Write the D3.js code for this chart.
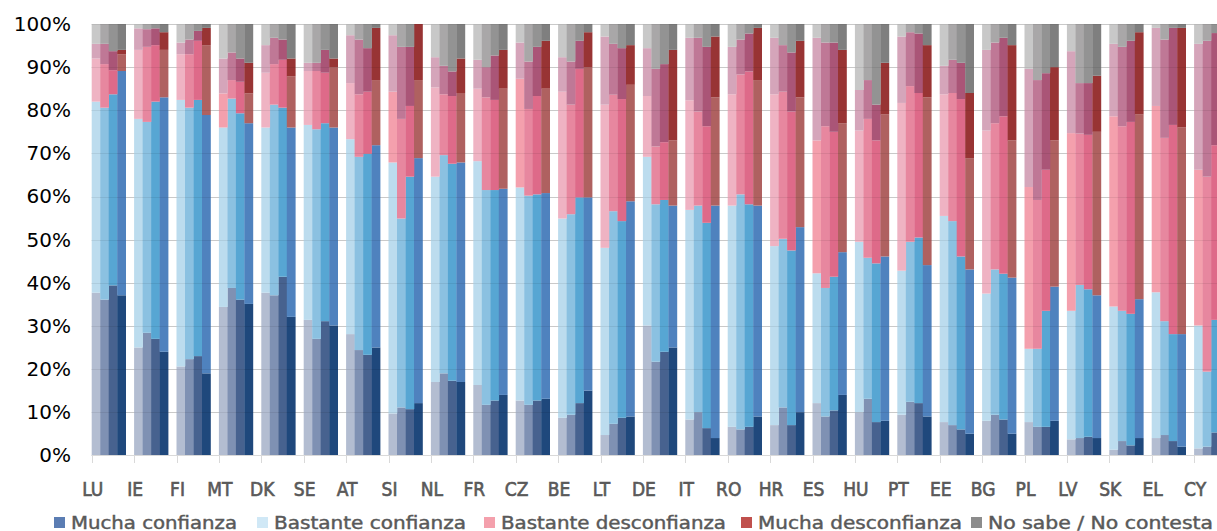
<!DOCTYPE html>
<html><head><meta charset="utf-8">
<script src="https://cdn.jsdelivr.net/npm/d3@7/dist/d3.min.js"></script>
<style>
body{margin:0;background:#fff;overflow:hidden}
svg{display:block}
</style>
</head><body>
<svg id="chart" width="1217" height="531"></svg>
<script>
// ---------------- DATA ----------------
const countries = ["LU","IE","FI","MT","DK","SE","AT","SI","NL","FR","CZ","BE","LT","DE","IT","RO","HR","ES","HU","PT","EE","BG","PL","LV","SK","EL","CY"];
const waves = ["w1","w2","w3","w4"];
const seriesNames = ["Mucha confianza","Bastante confianza","Bastante desconfianza","Mucha desconfianza","No sabe / No contesta"];

// values in %, one row per country, one value per wave
const muchaConfianza = [
 [37.7,36.1,39.4,37.1],[25.0,28.4,27.0,24.0],[20.6,22.3,23.0,19.0],[34.4,38.8,36.1,35.1],[37.7,37.1,41.4,32.1],
 [31.4,27.0,31.1,30.1],[28.1,24.4,23.3,25.0],[9.7,11.1,10.7,12.1],[17.0,19.0,17.3,17.0],[16.3,11.7,12.7,14.0],
 [12.7,11.7,12.7,13.1],[8.7,9.4,12.1,15.0],[4.7,7.3,8.7,9.0],[30.1,21.7,24.0,25.0],[8.3,10.0,6.3,4.0],
 [6.6,6.0,6.6,9.0],[7.0,11.1,7.0,10.0],[12.1,9.0,10.4,14.0],[10.0,13.1,7.7,8.0],[9.4,12.4,12.1,9.0],
 [7.7,7.0,6.0,5.0],[8.0,9.4,8.3,5.0],[7.7,6.6,6.6,8.0],[3.7,4.0,4.3,4.0],[1.3,3.3,2.3,4.0],
 [4.0,4.7,3.3,2.0],[1.6,2.0,5.3,5.0]
];
const bastanteConfianza = [
 [44.3,44.5,44.3,52.0],[53.0,48.9,55.0,59.0],[61.8,58.3,59.4,59.9],[41.6,43.9,43.2,41.9],[38.3,44.2,39.2,43.9],
 [45.2,48.6,45.9,45.9],[45.2,44.8,46.6,46.9],[58.2,43.8,53.9,56.8],[47.6,50.6,50.3,50.9],[51.9,49.8,48.8,47.8],
 [49.4,48.5,47.8,47.7],[46.2,46.5,47.7,44.8],[43.4,49.3,45.6,49.9],[39.1,36.5,35.2,32.9],[48.6,47.9,47.6,53.9],
 [51.3,54.5,51.6,48.9],[41.5,39.1,40.5,42.9],[30.1,29.8,31.0,33.1],[39.5,32.7,36.8,38.1],[33.4,37.1,38.4,35.1],
 [47.8,47.3,40.1,38.1],[29.5,33.7,33.8,36.2],[17.0,18.1,26.9,31.1],[29.8,35.5,34.2,33.1],[33.2,30.2,30.5,32.2],
 [33.8,26.4,24.8,26.1],[28.5,17.4,26.1,27.0]
];
const bastanteDesconfianza = [
 [10.0,10.1,5.6,3.9],[16.0,17.4,13.1,11.0],[10.6,12.4,13.7,16.2],[7.9,4.3,7.3,6.9],[12.7,9.4,11.1,11.9],
 [12.5,13.5,11.7,14.0],[13.0,14.5,14.4,15.1],[16.4,23.1,16.4,18.1],[20.7,14.1,15.7,16.1],[16.8,21.5,20.9,23.2],
 [25.2,20.1,22.8,24.2],[29.4,25.4,29.8,30.2],[33.2,27.0,28.3,27.0],[14.1,13.4,13.4,15.1],[25.4,21.8,22.4,25.1],
 [25.8,27.8,30.8,29.1],[35.2,34.1,32.2,30.1],[30.8,37.5,33.6,29.9],[25.8,32.2,28.5,32.9],[38.9,36.1,33.5,38.9],
 [28.2,29.7,36.5,25.8],[37.8,33.9,36.5,31.8],[37.5,34.5,32.7,33.9],[41.2,35.1,35.8,37.9],[44.1,42.8,44.5,42.8],
 [43.2,42.5,48.5,47.9],[36.1,45.2,40.5,39.0]
];
const muchaDesconfianza = [
 [3.4,4.7,4.4,1.0],[5.0,4.1,3.9,4.1],[2.7,3.4,2.3,4.0],[8.1,6.4,5.4,7.1],[6.4,6.1,4.7,4.1],
 [1.9,1.9,5.3,2.0],[11.1,12.7,10.1,12.1],[13.1,16.7,13.7,13.0],[7.0,6.6,5.7,8.0],[6.7,7.0,10.3,9.0],
 [8.4,11.0,11.4,11.1],[8.0,10.0,6.5,8.1],[15.8,11.8,11.8,9.2],[11.1,18.0,18.1,21.0],[14.5,17.1,18.4,14.1],
 [11.0,8.1,8.8,12.1],[13.1,10.8,13.7,13.1],[23.8,19.4,20.7,17.0],[9.4,9.0,8.3,12.0],[15.4,12.5,13.8,12.1],
 [6.6,7.7,8.4,15.1],[18.7,18.7,18.2,22.1],[27.4,27.8,22.4,17.0],[19.0,11.7,12.0,13.0],[16.8,18.4,18.8,19.1],
 [18.1,22.8,22.5,23.1],[29.2,31.5,26.0,27.0]
];
const noSabe = [
 [4.6,4.6,6.3,6.0],[1.0,1.2,1.0,1.9],[4.3,3.6,1.6,0.9],[8.0,6.6,8.0,9.0],[4.9,3.2,3.6,8.0],
 [9.0,9.0,6.0,8.0],[2.6,3.6,5.6,0.9],[2.6,5.3,5.3,0.0],[7.7,9.7,11.0,8.0],[8.3,10.0,7.3,6.0],
 [4.3,8.7,5.3,3.9],[7.7,8.7,3.9,1.9],[2.9,4.6,5.6,4.9],[5.6,10.4,9.3,6.0],[3.2,3.2,5.3,2.9],
 [5.3,3.6,2.2,0.9],[3.2,4.9,6.6,3.9],[3.2,4.3,4.3,6.0],[15.3,13.0,18.7,9.0],[2.9,1.9,2.2,4.9],
 [9.7,8.3,9.0,16.0],[6.0,4.3,3.2,4.9],[10.4,13.0,11.4,10.0],[6.3,13.7,13.7,12.0],[4.6,5.3,3.9,1.9],
 [0.9,3.6,0.9,0.9],[4.6,3.9,2.1,2.0]
];
const yTicks = [0,10,20,30,40,50,60,70,80,90,100];

// ---------------- STYLE ----------------
const keys = ["mc","bc","bd","md","ns"];
const shades = {
  mc: ["#b3bdd1","#7f91b3","#47628f","#1f487c"],
  bc: ["#bcdcee","#8bc1e1","#57a6d3","#4f82be"],
  bd: ["#efb3c3","#e7879f","#de6a89","#af6160"],
  md: ["#d5a5ba","#bf7896","#aa5577","#983434"],
  ns: ["#c8c8c8","#a9a7a8","#939393","#7f7f7f"]
};
const bdFirstAlt = "#f4a0ad";
const altFirstPink = new Set(["MT","SI","CZ","ES","PL","LV","SK","EL","CY"]);
const legendColors = ["#5b7db3","#d0e8f6","#f4a0ac","#c0504d","#8c8c8c"];

// ---------------- BUILD ----------------
const series = {mc: muchaConfianza, bc: bastanteConfianza, bd: bastanteDesconfianza, md: muchaDesconfianza, ns: noSabe};
const rows = [];
countries.forEach((c,i)=>waves.forEach((w,j)=>{
  const r = {country:c, wave:w, wi:j};
  keys.forEach(k=>r[k]=series[k][i][j]);
  rows.push(r);
}));
const stacked = d3.stack().keys(keys)(rows);

const svg = d3.select("#chart");
const left = 91.7, band = 42.4;
const x = d3.scaleBand().domain(countries).range([left, left + band*countries.length]).paddingInner(0).paddingOuter(0);
const groupW = 34;
const xi = d3.scaleBand().domain(waves).range([0, groupW]).padding(0);
const y = d3.scaleLinear().domain([0,100]).range([455.3, 24]);
const y0px = Math.round(y(0));

// gridlines under
svg.append("g").selectAll("line").data(yTicks).join("line")
  .attr("x1", left).attr("x2", 1217)
  .attr("y1", d=>Math.round(y(d))+0.5).attr("y2", d=>Math.round(y(d))+0.5)
  .attr("stroke","#d9d9d9").attr("stroke-width",1);

// bars
const gBars = svg.append("g");
stacked.forEach(layer=>{
  const k = layer.key;
  gBars.append("g").selectAll("rect").data(layer).join("rect")
    .attr("x", d=>x(d.data.country)+xi(d.data.wave))
    .attr("width", xi.bandwidth()+0.3)
    .attr("y", d=>y(d[1]))
    .attr("height", d=>Math.max(0, y(d[0])-y(d[1])))
    .attr("fill", d=>{
      if (k==="bd" && d.data.wi===0 && altFirstPink.has(d.data.country)) return bdFirstAlt;
      return shades[k][d.data.wi];
    });
});

// gridlines faintly over bars
svg.append("g").selectAll("line").data(yTicks).join("line")
  .attr("x1", left).attr("x2", 1217)
  .attr("y1", d=>Math.round(y(d))+0.5).attr("y2", d=>Math.round(y(d))+0.5)
  .attr("stroke","#000").attr("stroke-opacity",0.07).attr("stroke-width",1);

// x axis base + ticks at group edges
svg.append("line").attr("x1",left).attr("x2",1217)
  .attr("y1",y0px+0.5).attr("y2",y0px+0.5).attr("stroke","#d9d9d9");
svg.append("g").selectAll("line").data(countries).join("line")
  .attr("x1", d=>Math.round(x(d))+0.5).attr("x2", d=>Math.round(x(d))+0.5)
  .attr("y1", y0px).attr("y2", y0px+8)
  .attr("stroke","#d9d9d9");

// x labels
svg.append("g").selectAll("text").data(countries).join("text")
  .attr("x", d=>x(d)+1)
  .attr("y", 496)
  .attr("text-anchor","middle")
  .attr("font-family","'DejaVu Sans Condensed','DejaVu Sans',sans-serif")
  .attr("font-stretch","condensed")
  .attr("font-size","19px").attr("fill","#595959")
  .attr("stroke","#595959").attr("stroke-width",0.6)
  .text(d=>d);

// y labels
const yAxis = svg.append("g").attr("transform","translate(71,0)")
  .call(d3.axisLeft(y).tickValues(yTicks).tickSize(0).tickPadding(0).tickFormat(d=>d+"%"));
yAxis.select(".domain").remove();
yAxis.selectAll("text").attr("font-family","'DejaVu Sans',sans-serif").attr("font-size","20px").attr("fill","#000");

// legend
const legendX = [54, 257, 484, 741, 971];
const legendW = [166, 192, 225, 204, 225];
const lg = svg.append("g");
seriesNames.forEach((n,i)=>{
  lg.append("rect").attr("x",legendX[i]).attr("y",517).attr("width",11).attr("height",11).attr("fill",legendColors[i]);
  lg.append("text").attr("x",legendX[i]+17).attr("y",528.5)
    .attr("font-family","'DejaVu Sans Condensed','DejaVu Sans',sans-serif")
    .attr("font-stretch","condensed")
    .attr("font-size","17.5px").attr("fill","#595959")
    .attr("stroke","#595959").attr("stroke-width",0.4)
    .attr("textLength",legendW[i]).attr("lengthAdjust","spacingAndGlyphs")
    .text(n);
});
</script>
</body></html>
